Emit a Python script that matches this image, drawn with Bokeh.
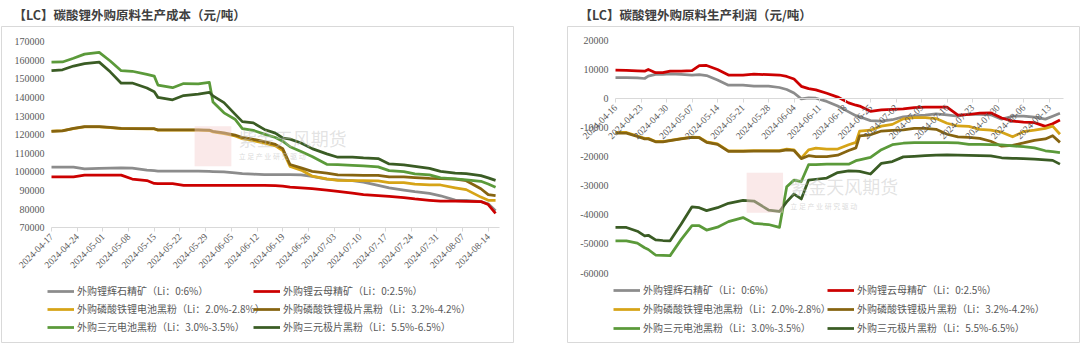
import pandas as pd
from math import pi
from bokeh.plotting import figure
from bokeh.models import (ColumnDataSource, Legend, LegendItem, FixedTicker,
                          Range1d, Label, BoxAnnotation)
from bokeh.layouts import row
from bokeh.embed import file_html
from bokeh.resources import INLINE

# ---------------- data ----------------
TITLE_COST = "【LC】碳酸锂外购原料生产成本（元/吨）"
TITLE_PROFIT = "【LC】碳酸锂外购原料生产利润（元/吨）"

SERIES_NAMES = [
    "外购锂辉石精矿（Li：0:6%）",
    "外购锂云母精矿（Li：0:2.5%）",
    "外购磷酸铁锂电池黑粉（Li：2.0%-2.8%）",
    "外购磷酸铁锂极片黑粉（Li：3.2%-4.2%）",
    "外购三元电池黑粉（Li：3.0%-3.5%）",
    "外购三元极片黑粉（Li：5.5%-6.5%）",
]
SERIES_COLORS = ["#8c8c8c", "#cc0000", "#d6a417", "#866410", "#5b9a3a", "#3a5c24"]

cost_dates = [
    "2024-04-17", "2024-04-20", "2024-04-23", "2024-04-26", "2024-04-30", "2024-05-03",
    "2024-05-06", "2024-05-09", "2024-05-13", "2024-05-15", "2024-05-16", "2024-05-20",
    "2024-05-23", "2024-05-27", "2024-05-30", "2024-05-31", "2024-06-03", "2024-06-06",
    "2024-06-08", "2024-06-11", "2024-06-14", "2024-06-17", "2024-06-19", "2024-06-21",
    "2024-06-24", "2024-06-27", "2024-07-01", "2024-07-04", "2024-07-08", "2024-07-11",
    "2024-07-15", "2024-07-18", "2024-07-22", "2024-07-25", "2024-07-29", "2024-08-01",
    "2024-08-05", "2024-08-08", "2024-08-12", "2024-08-14", "2024-08-16",
]
cost_spodumene = [
    102600, 102600, 102600, 101700, 101900, 102000, 102200, 102000, 101000, 100700,
    100500, 100400, 100400, 100400, 100300, 100200, 100000, 99500, 99100, 98800,
    98600, 98600, 98600, 98500, 98400, 97600, 96100, 95800, 95300, 94500,
    92800, 91500, 90300, 89400, 88500, 87200, 84900, 84700, 84100, 82900, 79200,
]
cost_lepidolite = [
    97400, 97400, 97400, 98300, 98300, 98300, 98300, 96200, 95400, 93800,
    93700, 93700, 92800, 92800, 92800, 92800, 92800, 92800, 92800, 92800,
    92800, 92700, 92400, 91800, 91500, 91000, 90300, 89600, 88600, 87800,
    87300, 86900, 86200, 85500, 84800, 84400, 84300, 84200, 84100, 82500, 77800,
]
cost_lfp_battery = [
    121900, 122200, 123200, 124200, 124200, 123800, 123300, 123200, 123100, 123100,
    122400, 122400, 122400, 122400, 122200, 121500, 120500, 119300, 117800, 116800,
    115500, 114000, 111500, 103000, 101000, 97800, 96300, 95500, 95400, 95300,
    95200, 94300, 94300, 93500, 93100, 93000, 91500, 90500, 86500, 84800, 84800,
]
cost_lfp_electrode = [
    121700, 122000, 123400, 124300, 124300, 123900, 123400, 123300, 123200, 123200,
    122600, 122600, 122600, 122600, 122400, 121800, 121000, 119800, 118500, 117500,
    116300, 114800, 112500, 104000, 102200, 100300, 99400, 98400, 98300, 98200,
    98200, 97300, 97300, 96900, 96500, 96400, 96200, 95300, 91000, 87800, 87300,
]
cost_ncm_battery = [
    158900, 159000, 161000, 163200, 164100, 159500, 154300, 154000, 152300, 151400,
    146600, 145200, 147400, 147300, 148100, 137500, 131700, 128300, 123200, 122300,
    120300, 118500, 116500, 113500, 111000, 108300, 104100, 103900, 103500, 103200,
    102700, 100700, 100200, 99000, 98400, 96800, 96300, 95700, 95000, 93500, 91800,
]
cost_ncm_electrode = [
    154300, 154800, 156800, 158100, 158900, 153700, 147600, 147700, 145000, 143000,
    140000, 138700, 141000, 141800, 142700, 140800, 137200, 131000, 127000, 126300,
    122800, 120800, 118200, 117600, 115500, 112500, 109700, 107900, 107900, 107500,
    107200, 104300, 103800, 103000, 101900, 100300, 99400, 99100, 98000, 96800, 95500,
]

profit_dates = [
    "2024-04-16", "2024-04-19", "2024-04-22", "2024-04-24", "2024-04-25", "2024-04-27",
    "2024-04-29", "2024-05-01", "2024-05-04", "2024-05-07", "2024-05-09", "2024-05-11",
    "2024-05-14", "2024-05-17", "2024-05-21", "2024-05-24", "2024-05-28", "2024-05-31",
    "2024-06-02", "2024-06-04", "2024-06-06", "2024-06-08", "2024-06-10", "2024-06-13",
    "2024-06-16", "2024-06-19", "2024-06-21", "2024-06-22", "2024-06-25", "2024-06-28",
    "2024-07-01", "2024-07-04", "2024-07-07", "2024-07-10", "2024-07-13", "2024-07-16",
    "2024-07-19", "2024-07-22", "2024-07-25", "2024-07-28", "2024-07-31", "2024-08-03",
    "2024-08-06", "2024-08-09", "2024-08-12", "2024-08-14", "2024-08-16",
]
profit_spodumene = [
    7300, 7300, 7200, 7000, 7800, 8400, 8400, 8600, 8400, 8200,
    8300, 8000, 6500, 4700, 4700, 4400, 4400, 3900, 3200, 2000,
    0, 300, 200, -900, -2500, -4500, -5800, -6200, -7500, -7700,
    -7200, -6200, -5900, -5600, -5200, -5500, -6000, -5300, -5400, -5500,
    -7000, -6000, -6000, -6300, -7000, -6000, -5000,
]
profit_lepidolite = [
    9900, 9800, 9600, 9500, 10100, 9000, 9000, 9550, 9550, 9700,
    11400, 11500, 10100, 8200, 8200, 8500, 8300, 8200, 7700, 6800,
    4300, 3500, 3100, 1900, 600, -1400, -2200, -2500, -4300, -3800,
    -3650, -3500, -3000, -2850, -2850, -2850, -5600, -5400, -4900, -4800,
    -6600, -7700, -8000, -8200, -9500, -8600, -7300,
]
profit_lfp_battery = [
    -11600, -11600, -12800, -13600, -13600, -14700, -14700, -14300, -13700, -13200,
    -13300, -14800, -15500, -17900, -17900, -17800, -17800, -17800, -17300, -17600,
    -20400, -17600, -17000, -17300, -17300, -15800, -15000, -11100, -10800, -9400,
    -8800, -6900, -6450, -6450, -6800, -8400, -9350, -9500, -10500, -10800,
    -11500, -13100, -11300, -10800, -10200, -9400, -12200,
]
profit_lfp_electrode = [
    -11800, -11800, -13000, -13800, -13800, -14800, -14800, -14400, -13800, -13300,
    -13400, -15000, -15700, -18100, -18100, -18000, -18000, -18000, -17600, -17800,
    -20600, -19600, -19900, -19900, -19400, -17800, -16900, -12800, -12400, -11100,
    -10900, -10700, -10150, -10150, -10500, -12200, -13100, -13300, -13600, -14600,
    -16300, -16000, -15200, -14300, -13800, -12700, -15000,
]
profit_ncm_battery = [
    -48900, -48900, -49700, -51300, -51900, -53800, -53900, -54000, -48500, -43700,
    -43700, -45200, -44200, -42300, -40900, -42900, -43300, -44300, -30300, -28000,
    -28500, -22700, -22700, -22500, -22500, -22500, -21300, -21000, -20200, -17500,
    -15800, -15300, -15100, -15100, -15100, -15100, -15200, -15700, -15700, -15800,
    -15900, -16200, -16500, -16900, -17900, -18200, -18500,
]
profit_ncm_electrode = [
    -44300, -44300, -45600, -47200, -47000, -48600, -48800, -48900, -43200, -37200,
    -37500, -38500, -37500, -36000, -35000, -35200, -38300, -38800, -35500, -32800,
    -34500, -28000, -27700, -27300, -25400, -24800, -24900, -25000, -25900, -22200,
    -21600, -20000, -19800, -19600, -19400, -19300, -19400, -19500, -19600, -19650,
    -20300, -20500, -20600, -20800, -21000, -21200, -22500,
]

cost_xticks = [
    "2024-04-17", "2024-04-24", "2024-05-01", "2024-05-08", "2024-05-15", "2024-05-22",
    "2024-05-29", "2024-06-05", "2024-06-12", "2024-06-19", "2024-06-26", "2024-07-03",
    "2024-07-10", "2024-07-17", "2024-07-24", "2024-07-31", "2024-08-07", "2024-08-14",
]
profit_xticks = [
    "2024-04-16", "2024-04-23", "2024-04-30", "2024-05-07", "2024-05-14", "2024-05-21",
    "2024-05-28", "2024-06-04", "2024-06-11", "2024-06-18", "2024-06-25", "2024-07-02",
    "2024-07-09", "2024-07-16", "2024-07-23", "2024-07-30", "2024-08-06", "2024-08-13",
]
cost_yticks = [70000, 80000, 90000, 100000, 110000, 120000, 130000, 140000, 150000, 160000, 170000]
profit_yticks = [-60000, -50000, -40000, -30000, -20000, -10000, 0, 10000, 20000]

WATERMARK = "紫金天风期货"
WATERMARK_SUB = "立 足 产 业   研 究 驱 动"

# ---------------- helpers ----------------
TICK_FONT = "Liberation Serif"
CJK_FONT = "Noto Sans CJK SC"
AXIS_GRAY = "#d9d9d9"
TEXT_GRAY = "#595959"
DAY_MS = 86400000.0
FIG_W, FIG_H = 540, 343


def ms(s):
    return pd.Timestamp(s).timestamp() * 1000.0


def make_chart(title, dates, series, xticks, yticks, frame_lr, axis_px, px_per_day,
               y_px, x_axis_value, legend_cols, legend_y, legend_spacing, wm):
    fl, fr = frame_lr
    top_b, bot_b = 25, 1
    frame_w = FIG_W - fl - fr
    frame_h = FIG_H - top_b - bot_b
    x0 = ms(xticks[0]) - axis_px / px_per_day * DAY_MS
    x1 = x0 + frame_w / px_per_day * DAY_MS
    ytop_px, ybot_px = y_px
    vpp = (yticks[-1] - yticks[0]) / (ybot_px - ytop_px)
    y1 = yticks[-1] + ytop_px * vpp
    y0 = yticks[0] - (frame_h - ybot_px) * vpp

    p = figure(width=FIG_W, height=FIG_H, x_axis_type="datetime",
               x_range=Range1d(x0, x1), y_range=Range1d(y0, y1),
               toolbar_location=None, output_backend="svg",
               min_border_left=fl, min_border_right=fr,
               min_border_top=top_b, min_border_bottom=bot_b,
               outline_line_color=AXIS_GRAY, outline_line_width=1,
               background_fill_color="white", border_fill_color="white")
    p.grid.visible = False

    p.title.text = title
    p.title.align = "left"
    p.title.offset = 12
    p.title.standoff = 5
    p.title.text_font = CJK_FONT
    p.title.text_font_size = "12.5px"
    p.title.text_font_style = "bold"
    p.title.text_color = "#404040"

    # watermark
    lx0, lx1, ly0, ly1, tx, ty, sy = wm
    p.add_layout(BoxAnnotation(left=ms(lx0), right=ms(lx1), bottom=ly0, top=ly1,
                               fill_color="#f3cfcf", fill_alpha=0.45, line_color=None))
    p.add_layout(Label(x=ms(tx), y=ty, text=WATERMARK, text_font=CJK_FONT, text_font_size="18px",
                       text_color="#bfbfbf", text_alpha=0.45, text_baseline="middle"))
    p.add_layout(Label(x=ms(tx), y=sy, text=WATERMARK_SUB, text_font=CJK_FONT, text_font_size="7px",
                       text_color="#bfbfbf", text_alpha=0.6, text_baseline="middle"))

    src = ColumnDataSource(dict(x=pd.to_datetime(dates), **{f"s{i}": s for i, s in enumerate(series)}))
    renderers = []
    for i, col in enumerate(SERIES_COLORS):
        r = p.line("x", f"s{i}", source=src, line_color=col, line_width=2.75, line_join="round")
        renderers.append(r)

    x_end = ms(dates[-1]) + DAY_MS

    xa = p.xaxis[0]
    xa.fixed_location = x_axis_value
    xa.bounds = (ms(xticks[0]), x_end)
    xa.ticker = FixedTicker(ticks=[ms(t) for t in xticks])
    xa.major_label_overrides = {ms(t): t for t in xticks}
    xa.major_label_orientation = pi / 4
    xa.axis_line_color = AXIS_GRAY
    xa.major_tick_line_color = AXIS_GRAY
    xa.major_tick_out = 4
    xa.major_tick_in = 0
    xa.minor_tick_line_color = None
    xa.major_label_text_font = TICK_FONT
    xa.major_label_text_font_size = "9.5px"
    xa.major_label_text_color = TEXT_GRAY
    xa.major_label_standoff = 3

    ya = p.yaxis[0]
    ya.fixed_location = ms(xticks[0])
    ya.bounds = (yticks[0], yticks[-1])
    ya.ticker = FixedTicker(ticks=yticks)
    ya.major_label_overrides = {t: str(t) for t in yticks}
    ya.axis_line_color = None
    ya.major_tick_line_color = None
    ya.major_tick_out = 0
    ya.major_tick_in = 0
    ya.minor_tick_line_color = None
    ya.major_label_standoff = 7
    ya.major_label_text_font = TICK_FONT
    ya.major_label_text_font_size = "10px"
    ya.major_label_text_color = TEXT_GRAY

    for cx, idxs in zip(legend_cols, [(0, 2, 4), (1, 3, 5)]):
        items = [LegendItem(label=SERIES_NAMES[i], renderers=[renderers[i]]) for i in idxs]
        lg = Legend(items=items, location=(cx, legend_y), orientation="vertical",
                    glyph_width=27, glyph_height=12, label_height=12, label_standoff=3,
                    spacing=legend_spacing, padding=0, margin=0, border_line_color=None,
                    background_fill_alpha=0, label_text_font=CJK_FONT,
                    label_text_font_size="10px", label_text_color=TEXT_GRAY)
        p.add_layout(lg, "center")
    return p


cost_chart = make_chart(
    TITLE_COST, cost_dates,
    [cost_spodumene, cost_lepidolite, cost_lfp_battery, cost_lfp_electrode,
     cost_ncm_battery, cost_ncm_electrode],
    cost_xticks, cost_yticks, (1, 27), 50, 3.67, (15, 202), 70000,
    (46, 252), 8, 3,
    ("2024-05-26", "2024-06-05", 103100, 124500, "2024-06-07", 118100, 108500),
)
profit_chart = make_chart(
    TITLE_PROFIT, profit_dates,
    [profit_spodumene, profit_lepidolite, profit_lfp_battery, profit_lfp_electrode,
     profit_ncm_battery, profit_ncm_electrode],
    profit_xticks, profit_yticks, (27, 1), 48, 3.643, (14.3, 247.3), 0,
    (46, 260), 7, 4,
    ("2024-05-22", "2024-06-01", -39200, -25500, "2024-06-03", -30000, -36900),
)

layout = row(cost_chart, profit_chart)

open("out.html", "w").write(file_html(layout, INLINE))
